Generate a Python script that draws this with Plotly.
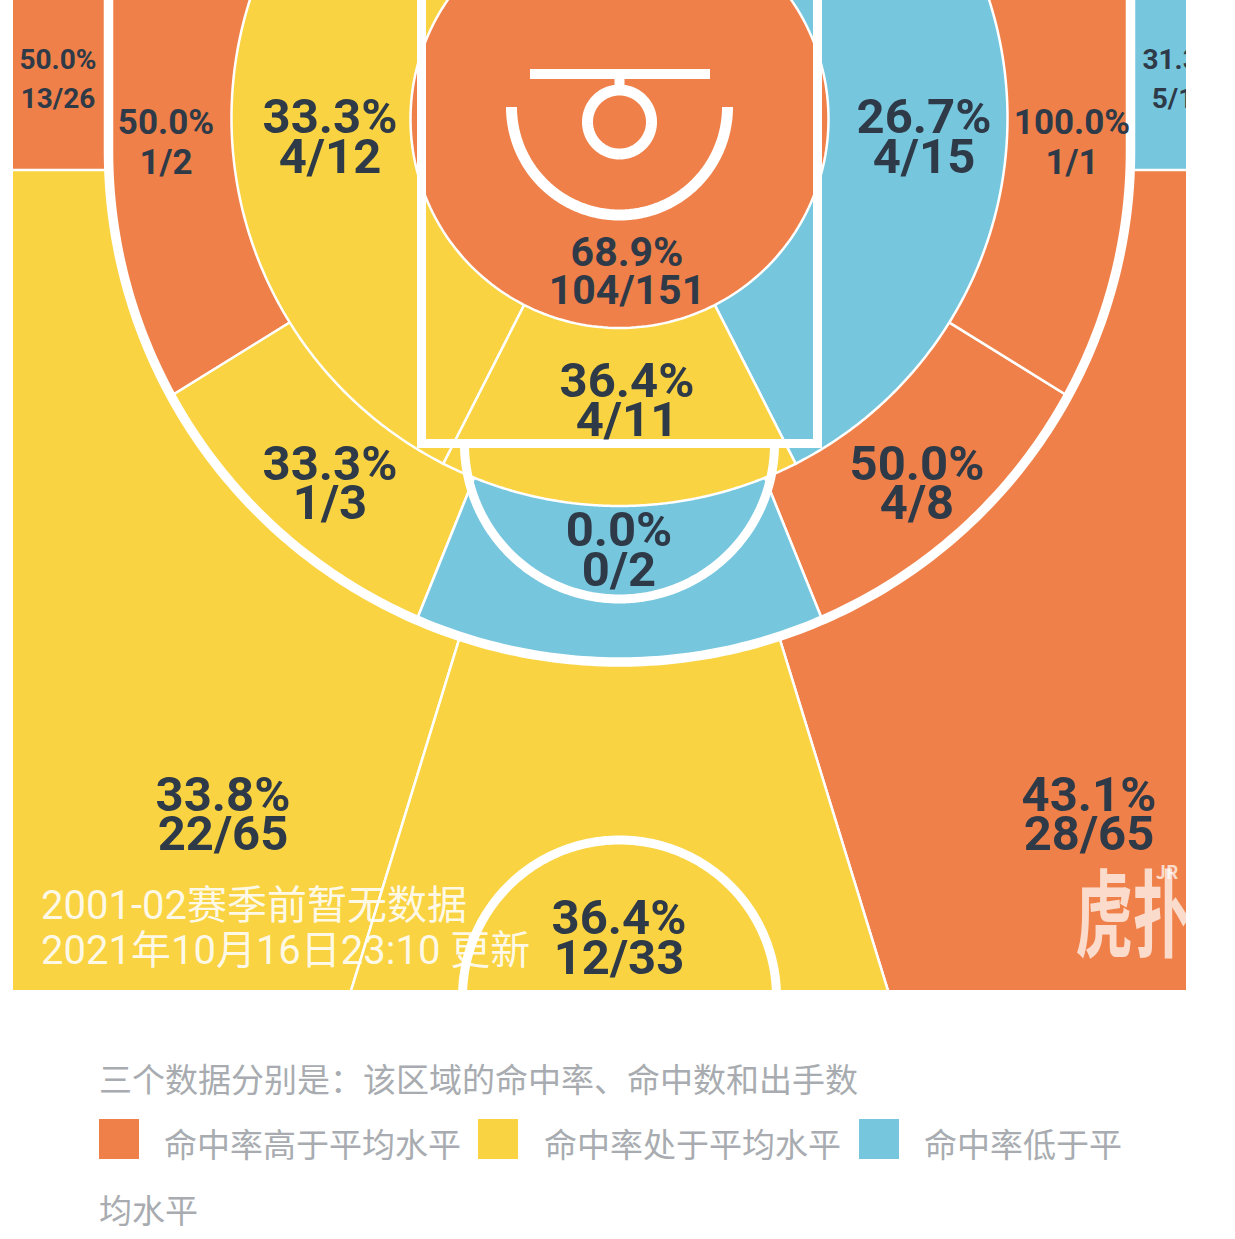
import numpy as np
import plotly.graph_objects as go

W, H = 1235, 1239
COURT_L, COURT_R, COURT_B = 13, 1186, 990

# zone data
zones = ["left_corner", "left_wing3", "top3", "right_wing3", "right_corner",
         "left_long", "left_base", "center_long", "right_base", "right_long",
         "left_mid", "center_mid", "right_mid", "restricted"]
zone_pct = ["50.0%", "33.8%", "36.4%", "43.1%", "31.3%",
            "50.0%", "33.3%", "0.0%", "50.0%", "100.0%",
            "33.3%", "36.4%", "26.7%", "68.9%"]
zone_shots = ["13/26", "22/65", "12/33", "28/65", "5/16",
              "1/2", "1/3", "0/2", "4/8", "1/1",
              "4/12", "4/11", "4/15", "104/151"]
zone_level = ["high", "mid", "mid", "high", "low",
              "high", "mid", "low", "high", "high",
              "mid", "mid", "low", "high"]

note_lines = ["2001-02赛季前暂无数据", "2021年10月16日23:10 更新"]
legend_title = "三个数据分别是：该区域的命中率、命中数和出手数"
legend_labels = ["命中率高于平均水平", "命中率处于平均水平", "命中率低于平"]
legend_wrap = "均水平"

COLORS = {"high": "#EF8049", "mid": "#F9D341", "low": "#76C6DE"}
INK = "#2E3A47"

# court geometry in screen pixels
CX, CY = 619.5, 118
R_RESTRICTED, R_MID = 209, 388
R_THREE, THREE_CY = 511, 151
FT_Y, R_FT = 444, 155
TOP_Y, R_TOP = 997, 157

# where each label sits: x, percent line y, shots line y, font size
label_pos = {
    "left_corner": (58, 62, 101, 28), "left_wing3": (223, 799, 838, 49),
    "top3": (619, 922, 962, 49), "right_wing3": (1089, 799, 838, 49),
    "right_corner": (1181, 62, 101, 28), "left_long": (166, 125, 165, 35),
    "left_base": (330, 468, 507, 49), "center_long": (619, 534, 574, 49),
    "right_base": (917, 468, 507, 49), "right_long": (1072, 125, 165, 35),
    "left_mid": (330, 121, 161, 49), "center_mid": (627, 385, 424, 49),
    "right_mid": (924, 121, 161, 49), "restricted": (627, 256, 294, 41),
}


def three_radius(theta):
    """Distance from the hoop to the three point line along a ray."""
    sx, sy = np.sin(theta), np.cos(theta)
    if abs(sx) > 1e-6 and CY + R_THREE / abs(sx) * sy < THREE_CY:
        return R_THREE / abs(sx)
    # ray against the arc centred lower than the hoop
    d = CY - THREE_CY
    b = d * sy
    return -b + np.sqrt(b * b - d * d + R_THREE ** 2)


def wedge(a0, a1, radius):
    """Polygon from the hoop, angles in degrees from straight down."""
    angs = np.radians(np.linspace(a0, a1, 240))
    rs = [radius(t) if callable(radius) else radius for t in angs]
    xs = [CX] + [CX + r * np.sin(t) for r, t in zip(rs, angs)] + [CX]
    ys = [CY] + [CY + r * np.cos(t) for r, t in zip(rs, angs)] + [CY]
    return xs, ys


def arc(cx, cy, r, a0, a1):
    angs = np.radians(np.linspace(a0, a1, 240))
    return cx + r * np.sin(angs), cy + r * np.cos(angs)


def add_fill(fig, xs, ys, level):
    fig.add_trace(go.Scatter(x=xs, y=ys, mode="lines", fill="toself", fillcolor=COLORS[level],
                             line=dict(color="white", width=2.5, simplify=False), hoverinfo="skip"))


def add_line(fig, xs, ys, width):
    fig.add_trace(go.Scatter(x=xs, y=ys, mode="lines",
                             line=dict(color="white", width=width, simplify=False),
                             hoverinfo="skip"))


def level_of(name):
    return zone_level[zones.index(name)]


A3, AM, AI, AW, FAR = 17.1, 22, 27, 58.2, 135

fig = go.Figure()

# three point zones, then corners
add_fill(fig, *wedge(-FAR, -A3, 1800), level_of("left_wing3"))
add_fill(fig, *wedge(A3, FAR, 1800), level_of("right_wing3"))
add_fill(fig, *wedge(-A3, A3, 1800), level_of("top3"))
add_fill(fig, [-50, CX - R_THREE, CX - R_THREE, -50, -50], [-50, -50, 170, 170, -50], level_of("left_corner"))
add_fill(fig, [CX + R_THREE, 1300, 1300, CX + R_THREE, CX + R_THREE], [-50, -50, 170, 170, -50], level_of("right_corner"))

# long two zones
add_fill(fig, *wedge(-FAR, -AW, three_radius), level_of("left_long"))
add_fill(fig, *wedge(-AW, -AM, three_radius), level_of("left_base"))
add_fill(fig, *wedge(AM, AW, three_radius), level_of("right_base"))
add_fill(fig, *wedge(AW, FAR, three_radius), level_of("right_long"))
add_fill(fig, *wedge(-AM, AM, three_radius), level_of("center_long"))

# mid range zones and the restricted circle
add_fill(fig, *wedge(-FAR, -AI, R_MID), level_of("left_mid"))
add_fill(fig, *wedge(AI, FAR, R_MID), level_of("right_mid"))
add_fill(fig, *wedge(-AI, AI, R_MID), level_of("center_mid"))
cx_, cy_ = arc(CX, CY + 1, R_RESTRICTED, 0, 360)
add_fill(fig, cx_, cy_, level_of("restricted"))

# heavy court lines
tx, ty = arc(CX, THREE_CY, R_THREE, -90, 90)
add_line(fig, [CX - R_THREE, *tx, CX + R_THREE], [-50, *ty, -50], 9.5)
add_line(fig, [421.5, 421.5, 817.5, 817.5], [-50, 443.5, 443.5, -50], 9)
fx, fy = arc(CX, FT_Y, R_FT, -90, 90)
add_line(fig, fx, fy, 9)
px_, py_ = arc(CX, TOP_Y, R_TOP, 90, 270)
add_line(fig, px_, py_, 9)

# hoop, backboard and charge circle
add_line(fig, [530, 710], [74, 74], 10)
add_line(fig, [CX, CX], [74, 90], 10)
hx, hy = arc(CX, 122, 32, 0, 360)
add_line(fig, hx, hy, 11)
rx, ry = arc(CX, 107, 108, -90, 90)
add_line(fig, rx, ry, 11)

# zone labels as clipped text
for name, pct, shots in zip(zones, zone_pct, zone_shots):
    x, y1, y2, size = label_pos[name]
    fig.add_trace(go.Scatter(
        x=[x, x], y=[y1, y2], mode="text", text=[pct, shots], textposition="middle center",
        textfont=dict(family="Roboto", size=size, color=INK, weight=700),
        cliponaxis=True, hoverinfo="skip"))

# watermark, stretched tall by the script below
fig.add_trace(go.Scatter(
    x=[1133, 1167], y=[931, 874], mode="text", text=["虎扑", "JR"], textposition="middle center",
    textfont=dict(family="Noto Sans CJK SC", size=[76, 18], color="rgba(255,255,255,0.72)", weight=700),
    cliponaxis=True, hoverinfo="skip"))


def px(x):
    return x / W


def py(y):
    return 1 - y / H


annotations = []


def add_text(text, x, y, size, color, family="Noto Sans CJK SC"):
    annotations.append(dict(text=text, x=px(x), y=py(y), xref="paper", yref="paper",
                            xanchor="left", yanchor="middle", showarrow=False,
                            font=dict(family=family, size=size, color=color), borderpad=0))


for line, y in zip(note_lines, [905, 950]):
    add_text(line, 40, y, 40, "rgba(255,255,255,0.88)", "Roboto, Noto Sans CJK SC")

GRAY = "#A8ACB0"
add_text(legend_title, 98, 1078, 33, GRAY)
shapes = []
for label, level, sx, tx0 in zip(legend_labels, ["high", "mid", "low"], [99, 478, 859], [163, 543, 923]):
    shapes.append(dict(type="rect", xref="paper", yref="paper", x0=px(sx), x1=px(sx + 40),
                       y0=py(1119), y1=py(1159), fillcolor=COLORS[level], line_width=0))
    add_text(label, tx0, 1143, 33, GRAY)
add_text(legend_wrap, 98, 1209, 33, GRAY)

fig.update_layout(
    width=W, height=H, margin=dict(l=0, r=0, t=0, b=0), showlegend=False,
    paper_bgcolor="white", plot_bgcolor="white",
    xaxis=dict(domain=[px(COURT_L), px(COURT_R)], range=[COURT_L, COURT_R], visible=False, fixedrange=True),
    yaxis=dict(domain=[py(COURT_B), 1], range=[COURT_B, 0], visible=False, fixedrange=True),
    shapes=shapes, annotations=annotations,
)

# the logo glyphs are narrow and tall in the reference
stretch = """
document.body.style.margin='0';
document.querySelectorAll('text').forEach(function (t) {
  if (t.textContent === '虎扑') {
    var x = +t.getAttribute('x'), y = +t.getAttribute('y');
    t.setAttribute('transform', 'translate(' + x + ',' + y + ') scale(0.76,1.25) translate(' + (-x) + ',' + (-y) + ')');
  }
});
"""
fig.write_html("out.html", config={"displayModeBar": False}, post_script=stretch)
